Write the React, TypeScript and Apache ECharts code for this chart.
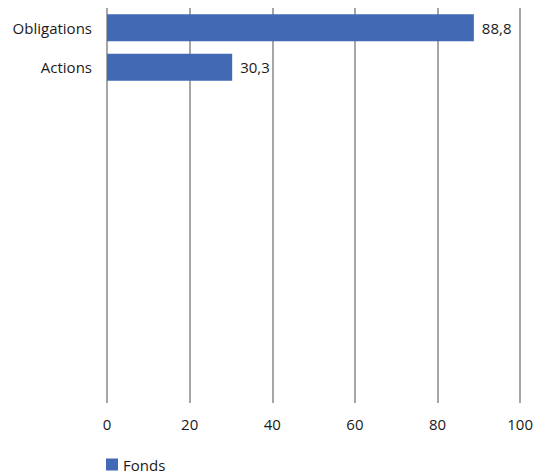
import React, { useEffect, useRef } from "react";
import * as echarts from "echarts";

const categories = ["Obligations", "Actions", "", "", "", "", "", "", "", ""];
const fondsValues: (number | null)[] = [88.8, 30.3, null, null, null, null, null, null, null, null];
const xTicks = [0, 20, 40, 60, 80, 100];
const seriesName = "Fonds";

const FONT = "'Open Sans', 'Noto Sans', sans-serif";
const FS = 15;
const TXT = "#1a1a1a";

export default function App() {
  const ref = useRef<HTMLDivElement>(null);
  useEffect(() => {
    document.body.style.margin = "0";
    if (!ref.current) return;
    const chart = echarts.init(ref.current, undefined, { renderer: "svg" });
    chart.setOption({
      animation: false,
      textStyle: { fontFamily: FONT },
      grid: { left: 107, right: 15, top: 8, bottom: 70, containLabel: false },
      legend: {
        data: [seriesName],
        left: 101,
        top: 452,
        icon: "rect",
        itemWidth: 12,
        itemHeight: 12,
        itemGap: 8,
        textStyle: { fontFamily: FONT, fontSize: FS, color: TXT },
      },
      xAxis: {
        type: "value",
        min: xTicks[0],
        max: xTicks[xTicks.length - 1],
        interval: 20,
        axisLine: { show: false },
        axisTick: { show: false },
        axisLabel: { fontFamily: FONT, fontSize: FS, color: TXT, margin: 13 },
        splitLine: { show: true, lineStyle: { color: "#a6a6a6", width: 2 } },
      },
      yAxis: {
        type: "category",
        data: categories,
        inverse: true,
        axisLine: { show: false },
        axisTick: { show: false },
        axisLabel: { fontFamily: FONT, fontSize: FS, color: TXT, margin: 15 },
        splitLine: { show: false },
      },
      series: [
        {
          name: seriesName,
          type: "bar",
          data: fondsValues,
          barWidth: 27,
          itemStyle: { color: "#4169b4" },
          label: {
            show: true,
            position: "right",
            distance: 8,
            fontFamily: FONT,
            fontSize: FS,
            color: TXT,
            formatter: (p: any) => String(p.value).replace(".", ","),
          },
        },
      ],
    });
    return () => chart.dispose();
  }, []);
  return <div ref={ref} style={{ width: 536, height: 473 }} />;
}
